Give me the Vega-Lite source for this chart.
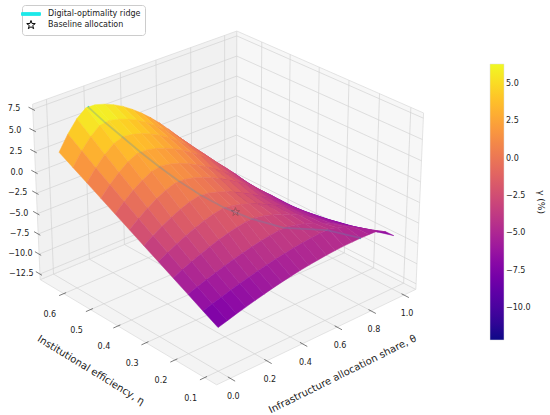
{
  "$schema": "https://vega.github.io/schema/vega-lite/v6.json",
  "width": 550,
  "height": 415,
  "autosize": {"type": "none"},
  "padding": 0,
  "params": [
    {"name": "az", "value": -132},
    {"name": "el", "value": 27.5},
    {"name": "t0", "value": -0.073},
    {"name": "t1", "value": 1.073},
    {"name": "e0", "value": 0.06},
    {"name": "e1", "value": 0.69},
    {"name": "z0", "value": -13.2},
    {"name": "z1", "value": 8.1},
    {"name": "hx", "value": 0.595},
    {"name": "hz", "value": 0.4346},
    {"name": "pK", "value": 228},
    {"name": "pCX", "value": 227.3},
    {"name": "pCY", "value": 198.3},
    {"name": "pD", "value": 10},
    {"name": "tm", "expr": "(t0+t1)/2"},
    {"name": "tk", "expr": "2*hx/(t1-t0)"},
    {"name": "em", "expr": "(e0+e1)/2"},
    {"name": "ek", "expr": "2*hx/(e1-e0)"},
    {"name": "zm", "expr": "(z0+z1)/2"},
    {"name": "zk", "expr": "2*hz/(z1-z0)"},
    {"name": "ua", "expr": "-sin(az*PI/180)"},
    {"name": "ub", "expr": "cos(az*PI/180)"},
    {"name": "va", "expr": "-sin(el*PI/180)*cos(az*PI/180)"},
    {"name": "vb", "expr": "-sin(el*PI/180)*sin(az*PI/180)"},
    {"name": "vc", "expr": "cos(el*PI/180)"},
    {"name": "wa", "expr": "cos(el*PI/180)*cos(az*PI/180)"},
    {"name": "wb", "expr": "cos(el*PI/180)*sin(az*PI/180)"},
    {"name": "wc", "expr": "sin(el*PI/180)"}
  ],
  "datasets": {
    "surf": [
      {"et": 0.1, "th": [0,0.05,0.1,0.15,0.2,0.25,0.3,0.35,0.4,0.45,0.5,0.55,0.6,0.65,0.7,0.75,0.8,0.85,0.9,0.95,1], "g": [-8.0,-7.69,-7.37,-7.08,-6.80,-6.54,-6.28,-6.06,-5.85,-5.66,-5.50,-5.37,-5.25,-5.16,-5.09,-5.06,-5.05,-5.07,-5.11,-5.67,-6.6]},
      {"et": 0.15, "th": [0,0.05,0.1,0.15,0.2,0.25,0.3,0.35,0.4,0.45,0.5,0.55,0.6,0.65,0.7,0.75,0.8,0.85,0.9,0.95,1], "g": [-7.05,-6.71,-6.38,-6.06,-5.76,-5.48,-5.22,-4.97,-4.75,-4.55,-4.38,-4.23,-4.11,-4.03,-4.01,-4.23,-4.62,-5.12,-5.71,-6.37,-7.10]},
      {"et": 0.2, "th": [0,0.05,0.1,0.15,0.2,0.25,0.3,0.35,0.4,0.45,0.5,0.55,0.6,0.65,0.7,0.75,0.8,0.85,0.9,0.95,1], "g": [-6.09,-5.69,-5.31,-4.95,-4.62,-4.31,-4.03,-3.77,-3.55,-3.37,-3.24,-3.24,-3.45,-3.77,-4.16,-4.61,-5.11,-5.67,-6.27,-6.92,-7.60]},
      {"et": 0.25, "th": [0,0.05,0.1,0.15,0.2,0.25,0.3,0.35,0.4,0.45,0.5,0.55,0.6,0.65,0.7,0.75,0.8,0.85,0.9,0.95,1], "g": [-5.13,-4.62,-4.15,-3.71,-3.30,-2.94,-2.63,-2.37,-2.19,-2.17,-2.39,-2.71,-3.10,-3.56,-4.08,-4.64,-5.25,-5.91,-6.60,-7.33,-8.10]},
      {"et": 0.3, "th": [0,0.05,0.1,0.15,0.2,0.25,0.3,0.35,0.4,0.45,0.5,0.55,0.6,0.65,0.7,0.75,0.8,0.85,0.9,0.95,1], "g": [-4.18,-3.56,-2.98,-2.46,-2.00,-1.60,-1.29,-1.09,-1.20,-1.48,-1.85,-2.30,-2.81,-3.37,-3.99,-4.66,-5.37,-6.12,-6.91,-7.74,-8.60]},
      {"et": 0.35, "th": [0,0.05,0.1,0.15,0.2,0.25,0.3,0.35,0.4,0.45,0.5,0.55,0.6,0.65,0.7,0.75,0.8,0.85,0.9,0.95,1], "g": [-3.23,-2.49,-1.81,-1.22,-0.71,-0.30,-0.05,-0.16,-0.46,-0.86,-1.34,-1.89,-2.50,-3.17,-3.88,-4.65,-5.45,-6.31,-7.20,-8.14,-9.10]},
      {"et": 0.4, "th": [0,0.05,0.1,0.15,0.2,0.25,0.3,0.35,0.4,0.45,0.5,0.55,0.6,0.65,0.7,0.75,0.8,0.85,0.9,0.95,1], "g": [-2.27,-1.38,-0.59,0.10,0.66,1.03,1.03,0.79,0.42,-0.04,-0.59,-1.21,-1.90,-2.66,-3.49,-4.37,-5.31,-6.31,-7.35,-8.45,-9.60]},
      {"et": 0.45, "th": [0,0.05,0.1,0.15,0.2,0.25,0.3,0.35,0.4,0.45,0.5,0.55,0.6,0.65,0.7,0.75,0.8,0.85,0.9,0.95,1], "g": [-1.32,-0.28,0.63,1.39,1.96,2.19,1.99,1.64,1.18,0.63,-0.01,-0.73,-1.52,-2.38,-3.31,-4.30,-5.35,-6.45,-7.61,-8.83,-10.10]},
      {"et": 0.5, "th": [0,0.05,0.1,0.15,0.2,0.25,0.3,0.35,0.4,0.45,0.5,0.55,0.6,0.65,0.7,0.75,0.8,0.85,0.9,0.95,1], "g": [-0.36,0.84,1.87,2.69,3.23,3.23,2.98,2.60,2.11,1.51,0.82,0.03,-0.84,-1.79,-2.83,-3.94,-5.13,-6.39,-7.73,-9.13,-10.60]},
      {"et": 0.55, "th": [0,0.05,0.1,0.15,0.2,0.25,0.3,0.35,0.4,0.45,0.5,0.55,0.6,0.65,0.7,0.75,0.8,0.85,0.9,0.95,1], "g": [0.60,1.96,3.11,3.98,4.40,4.24,3.91,3.46,2.88,2.20,1.42,0.55,-0.42,-1.47,-2.61,-3.84,-5.14,-6.52,-7.97,-9.50,-11.10]},
      {"et": 0.6, "th": [0,0.05,0.1,0.15,0.2,0.25,0.3,0.35,0.4,0.45,0.5,0.55,0.6,0.65,0.7,0.75,0.8,0.85,0.9,0.95,1], "g": [1.55,3.12,4.39,5.29,5.46,5.21,4.81,4.28,3.62,2.86,1.99,1.02,-0.04,-1.19,-2.43,-3.76,-5.17,-6.66,-8.23,-9.88,-11.60]},
      {"et": 0.65, "th": [0,0.05,0.1,0.15,0.2,0.25,0.3,0.35,0.4,0.45,0.5,0.55,0.6,0.65,0.7,0.75,0.8,0.85,0.9,0.95,1], "g": [2.50,4.26,5.66,6.54,6.50,6.18,5.71,5.11,4.37,3.53,2.58,1.53,0.37,-0.88,-2.23,-3.65,-5.18,-6.77,-8.47,-10.23,-12.10]}
    ],
    "ridge": [
      {"th": 0.8, "et": 0.1, "g": -5.05},
      {"th": 0.69, "et": 0.15, "g": -4.0},
      {"th": 0.53, "et": 0.2, "g": -3.2},
      {"th": 0.43, "et": 0.25, "g": -2.13},
      {"th": 0.36, "et": 0.3, "g": -1.08},
      {"th": 0.31, "et": 0.35, "g": -0.03},
      {"th": 0.27, "et": 0.4, "g": 1.1},
      {"th": 0.24, "et": 0.45, "g": 2.2},
      {"th": 0.215, "et": 0.5, "g": 3.3},
      {"th": 0.195, "et": 0.55, "g": 4.4},
      {"th": 0.175, "et": 0.6, "g": 5.5},
      {"th": 0.16, "et": 0.65, "g": 6.6}
    ],
    "base": [
      {"th": 0.39, "et": 0.28, "g": -1.5, "s": "Baseline allocation"}
    ],
    "panes": [
      {"p": "f", "c": "000100110010"},
      {"p": "l", "c": "010110111011"},
      {"p": "r", "c": "100110111101"}
    ],
    "grid": [
      {"p": "f", "a": "t", "v": 0}, {"p": "f", "a": "t", "v": 0.2}, {"p": "f", "a": "t", "v": 0.4},
      {"p": "f", "a": "t", "v": 0.6}, {"p": "f", "a": "t", "v": 0.8}, {"p": "f", "a": "t", "v": 1},
      {"p": "f", "a": "e", "v": 0.1}, {"p": "f", "a": "e", "v": 0.2}, {"p": "f", "a": "e", "v": 0.3},
      {"p": "f", "a": "e", "v": 0.4}, {"p": "f", "a": "e", "v": 0.5}, {"p": "f", "a": "e", "v": 0.6},
      {"p": "l", "a": "t", "v": 0}, {"p": "l", "a": "t", "v": 0.2}, {"p": "l", "a": "t", "v": 0.4},
      {"p": "l", "a": "t", "v": 0.6}, {"p": "l", "a": "t", "v": 0.8}, {"p": "l", "a": "t", "v": 1},
      {"p": "l", "a": "z", "v": -12.5}, {"p": "l", "a": "z", "v": -10}, {"p": "l", "a": "z", "v": -7.5},
      {"p": "l", "a": "z", "v": -5}, {"p": "l", "a": "z", "v": -2.5}, {"p": "l", "a": "z", "v": 0},
      {"p": "l", "a": "z", "v": 2.5}, {"p": "l", "a": "z", "v": 5}, {"p": "l", "a": "z", "v": 7.5},
      {"p": "r", "a": "e", "v": 0.1}, {"p": "r", "a": "e", "v": 0.2}, {"p": "r", "a": "e", "v": 0.3},
      {"p": "r", "a": "e", "v": 0.4}, {"p": "r", "a": "e", "v": 0.5}, {"p": "r", "a": "e", "v": 0.6},
      {"p": "r", "a": "z", "v": -12.5}, {"p": "r", "a": "z", "v": -10}, {"p": "r", "a": "z", "v": -7.5},
      {"p": "r", "a": "z", "v": -5}, {"p": "r", "a": "z", "v": -2.5}, {"p": "r", "a": "z", "v": 0},
      {"p": "r", "a": "z", "v": 2.5}, {"p": "r", "a": "z", "v": 5}, {"p": "r", "a": "z", "v": 7.5}
    ],
    "ticks": [
      {"a": "t", "v": 0}, {"a": "t", "v": 0.2}, {"a": "t", "v": 0.4}, {"a": "t", "v": 0.6}, {"a": "t", "v": 0.8}, {"a": "t", "v": 1},
      {"a": "e", "v": 0.1}, {"a": "e", "v": 0.2}, {"a": "e", "v": 0.3}, {"a": "e", "v": 0.4}, {"a": "e", "v": 0.5}, {"a": "e", "v": 0.6},
      {"a": "z", "v": -12.5}, {"a": "z", "v": -10}, {"a": "z", "v": -7.5}, {"a": "z", "v": -5}, {"a": "z", "v": -2.5},
      {"a": "z", "v": 0}, {"a": "z", "v": 2.5}, {"a": "z", "v": 5}, {"a": "z", "v": 7.5}
    ],
    "titles": [
      {"ax": "t", "th": 0.5, "label": "Infrastructure allocation share, θ"},
      {"ax": "e", "et": 0.375, "label": "Institutional efficiency, η"}
    ]
  },
  "encoding": {
    "x": {"field": "sx", "type": "quantitative", "scale": {"domain": [0, 550], "range": [0, 550], "nice": false, "zero": false}, "axis": null},
    "y": {"field": "sy", "type": "quantitative", "scale": {"domain": [0, 415], "range": [0, 415], "nice": false, "zero": false}, "axis": null}
  },
  "layer": [
    {
      "data": {"name": "panes"},
      "transform": [
        {"calculate": "((substring(datum.c,0,1)=='1'?t1:t0)-tm)*tk", "as": "X0"},
        {"calculate": "((substring(datum.c,1,2)=='1'?e1:e0)-em)*ek", "as": "Y0"},
        {"calculate": "((substring(datum.c,2,3)=='1'?z1:z0)-zm)*zk", "as": "Z0"},
        {"calculate": "((substring(datum.c,3,4)=='1'?t1:t0)-tm)*tk", "as": "X1"},
        {"calculate": "((substring(datum.c,4,5)=='1'?e1:e0)-em)*ek", "as": "Y1"},
        {"calculate": "((substring(datum.c,5,6)=='1'?z1:z0)-zm)*zk", "as": "Z1"},
        {"calculate": "((substring(datum.c,6,7)=='1'?t1:t0)-tm)*tk", "as": "X2"},
        {"calculate": "((substring(datum.c,7,8)=='1'?e1:e0)-em)*ek", "as": "Y2"},
        {"calculate": "((substring(datum.c,8,9)=='1'?z1:z0)-zm)*zk", "as": "Z2"},
        {"calculate": "((substring(datum.c,9,10)=='1'?t1:t0)-tm)*tk", "as": "X3"},
        {"calculate": "((substring(datum.c,10,11)=='1'?e1:e0)-em)*ek", "as": "Y3"},
        {"calculate": "((substring(datum.c,11,12)=='1'?z1:z0)-zm)*zk", "as": "Z3"},
        {"calculate": "pD/(pD-wa*datum.X0-wb*datum.Y0-wc*datum.Z0)", "as": "F0"},
        {"calculate": "pD/(pD-wa*datum.X1-wb*datum.Y1-wc*datum.Z1)", "as": "F1"},
        {"calculate": "pD/(pD-wa*datum.X2-wb*datum.Y2-wc*datum.Z2)", "as": "F2"},
        {"calculate": "pD/(pD-wa*datum.X3-wb*datum.Y3-wc*datum.Z3)", "as": "F3"},
        {"calculate": "pCX+pK*(ua*datum.X0+ub*datum.Y0)*datum.F0", "as": "sx"},
        {"calculate": "pCY-pK*(va*datum.X0+vb*datum.Y0+vc*datum.Z0)*datum.F0", "as": "sy"},
        {"calculate": "round(100*(pCX+pK*(ua*datum.X1+ub*datum.Y1)*datum.F1-datum.sx))/100", "as": "u1"},
        {"calculate": "round(100*(pCY-pK*(va*datum.X1+vb*datum.Y1+vc*datum.Z1)*datum.F1-datum.sy))/100", "as": "v1"},
        {"calculate": "round(100*(pCX+pK*(ua*datum.X2+ub*datum.Y2)*datum.F2-datum.sx))/100", "as": "u2"},
        {"calculate": "round(100*(pCY-pK*(va*datum.X2+vb*datum.Y2+vc*datum.Z2)*datum.F2-datum.sy))/100", "as": "v2"},
        {"calculate": "round(100*(pCX+pK*(ua*datum.X3+ub*datum.Y3)*datum.F3-datum.sx))/100", "as": "u3"},
        {"calculate": "round(100*(pCY-pK*(va*datum.X3+vb*datum.Y3+vc*datum.Z3)*datum.F3-datum.sy))/100", "as": "v3"},
        {"calculate": "'M0,0L'+datum.u1+','+datum.v1+'L'+datum.u2+','+datum.v2+'L'+datum.u3+','+datum.v3+'Z'", "as": "path"}
      ],
      "mark": {"type": "point", "filled": true, "size": 4, "opacity": 1, "stroke": "#dddddd", "strokeWidth": 0.8},
      "encoding": {
        "shape": {"field": "path", "type": "nominal", "scale": null},
        "fill": {"field": "p", "type": "nominal", "scale": {"domain": ["f", "l", "r"], "range": ["#f4f4f4", "#f1f1f1", "#f7f7f7"]}, "legend": null}
      }
    },
    {
      "data": {"name": "grid"},
      "transform": [
        {"calculate": "datum.a=='t'?datum.v:(datum.p=='r'?t1:t0)", "as": "A"},
        {"calculate": "datum.a=='t'?datum.v:t1", "as": "A2"},
        {"calculate": "datum.a=='e'?datum.v:(datum.p=='l'?e1:e0)", "as": "B"},
        {"calculate": "datum.a=='e'?datum.v:e1", "as": "B2"},
        {"calculate": "datum.a=='z'?datum.v:z0", "as": "C"},
        {"calculate": "datum.a=='z'?datum.v:(datum.p=='f'?z0:z1)", "as": "C2"},
        {"calculate": "(datum.A-tm)*tk", "as": "X"},
        {"calculate": "(datum.B-em)*ek", "as": "Y"},
        {"calculate": "(datum.C-zm)*zk", "as": "Z"},
        {"calculate": "pD/(pD-wa*datum.X-wb*datum.Y-wc*datum.Z)", "as": "F"},
        {"calculate": "pCX+pK*(ua*datum.X+ub*datum.Y)*datum.F", "as": "sx"},
        {"calculate": "pCY-pK*(va*datum.X+vb*datum.Y+vc*datum.Z)*datum.F", "as": "sy"},
        {"calculate": "(datum.A2-tm)*tk", "as": "X2"},
        {"calculate": "(datum.B2-em)*ek", "as": "Y2"},
        {"calculate": "(datum.C2-zm)*zk", "as": "Z2"},
        {"calculate": "pD/(pD-wa*datum.X2-wb*datum.Y2-wc*datum.Z2)", "as": "F2"},
        {"calculate": "pCX+pK*(ua*datum.X2+ub*datum.Y2)*datum.F2", "as": "sx2"},
        {"calculate": "pCY-pK*(va*datum.X2+vb*datum.Y2+vc*datum.Z2)*datum.F2", "as": "sy2"}
      ],
      "mark": {"type": "rule", "stroke": "#d2d2d2", "strokeWidth": 0.7},
      "encoding": {"x2": {"field": "sx2"}, "y2": {"field": "sy2"}}
    },
    {
      "data": {"name": "ticks"},
      "transform": [
        {"calculate": "datum.a=='t'?datum.v:(datum.a=='e'?t0+0.013:t0)", "as": "A"},
        {"calculate": "datum.a=='t'?datum.v:(datum.a=='e'?t0-0.025:t0)", "as": "A2"},
        {"calculate": "datum.a=='e'?datum.v:(datum.a=='t'?e0+0.008:e1-0.008)", "as": "B"},
        {"calculate": "datum.a=='e'?datum.v:(datum.a=='t'?e0-0.016:e1+0.016)", "as": "B2"},
        {"calculate": "datum.a=='z'?datum.v:z0", "as": "C"},
        {"calculate": "datum.a=='z'?datum.v:z0", "as": "C2"},
        {"calculate": "(datum.A-tm)*tk", "as": "X"},
        {"calculate": "(datum.B-em)*ek", "as": "Y"},
        {"calculate": "(datum.C-zm)*zk", "as": "Z"},
        {"calculate": "pD/(pD-wa*datum.X-wb*datum.Y-wc*datum.Z)", "as": "F"},
        {"calculate": "pCX+pK*(ua*datum.X+ub*datum.Y)*datum.F", "as": "sx"},
        {"calculate": "pCY-pK*(va*datum.X+vb*datum.Y+vc*datum.Z)*datum.F", "as": "sy"},
        {"calculate": "(datum.A2-tm)*tk", "as": "X2"},
        {"calculate": "(datum.B2-em)*ek", "as": "Y2"},
        {"calculate": "(datum.C2-zm)*zk", "as": "Z2"},
        {"calculate": "pD/(pD-wa*datum.X2-wb*datum.Y2-wc*datum.Z2)", "as": "F2"},
        {"calculate": "pCX+pK*(ua*datum.X2+ub*datum.Y2)*datum.F2", "as": "sx2"},
        {"calculate": "pCY-pK*(va*datum.X2+vb*datum.Y2+vc*datum.Z2)*datum.F2", "as": "sy2"}
      ],
      "mark": {"type": "rule", "stroke": "#444444", "strokeWidth": 0.7},
      "encoding": {"x2": {"field": "sx2"}, "y2": {"field": "sy2"}}
    },
    {
      "data": {"name": "ticks"},
      "transform": [
        {"filter": "datum.a=='t'"},
        {"calculate": "(datum.v-tm)*tk", "as": "X"},
        {"calculate": "(e0-em)*ek", "as": "Y"},
        {"calculate": "(z0-zm)*zk", "as": "Z"},
        {"calculate": "pD/(pD-wa*datum.X-wb*datum.Y-wc*datum.Z)", "as": "F"},
        {"calculate": "pCX+pK*(ua*datum.X+ub*datum.Y)*datum.F", "as": "sx"},
        {"calculate": "pCY-pK*(va*datum.X+vb*datum.Y+vc*datum.Z)*datum.F", "as": "sy"},
        {"calculate": "format(datum.v,'.1f')", "as": "lab"}
      ],
      "mark": {"type": "text", "fontSize": 8, "color": "#222222", "align": "center", "baseline": "middle", "dx": 3, "dy": 19},
      "encoding": {"text": {"field": "lab"}}
    },
    {
      "data": {"name": "ticks"},
      "transform": [
        {"filter": "datum.a=='e'"},
        {"calculate": "(t0-tm)*tk", "as": "X"},
        {"calculate": "(datum.v-em)*ek", "as": "Y"},
        {"calculate": "(z0-zm)*zk", "as": "Z"},
        {"calculate": "pD/(pD-wa*datum.X-wb*datum.Y-wc*datum.Z)", "as": "F"},
        {"calculate": "pCX+pK*(ua*datum.X+ub*datum.Y)*datum.F", "as": "sx"},
        {"calculate": "pCY-pK*(va*datum.X+vb*datum.Y+vc*datum.Z)*datum.F", "as": "sy"},
        {"calculate": "format(datum.v,'.1f')", "as": "lab"}
      ],
      "mark": {"type": "text", "fontSize": 8, "color": "#222222", "align": "center", "baseline": "middle", "dx": -14, "dy": 21},
      "encoding": {"text": {"field": "lab"}}
    },
    {
      "data": {"name": "ticks"},
      "transform": [
        {"filter": "datum.a=='z'"},
        {"calculate": "(t0-tm)*tk", "as": "X"},
        {"calculate": "(e1-em)*ek", "as": "Y"},
        {"calculate": "(datum.v-zm)*zk", "as": "Z"},
        {"calculate": "pD/(pD-wa*datum.X-wb*datum.Y-wc*datum.Z)", "as": "F"},
        {"calculate": "pCX+pK*(ua*datum.X+ub*datum.Y)*datum.F", "as": "sx"},
        {"calculate": "pCY-pK*(va*datum.X+vb*datum.Y+vc*datum.Z)*datum.F", "as": "sy"},
        {"calculate": "format(datum.v,'.1f')", "as": "lab"}
      ],
      "mark": {"type": "text", "fontSize": 8, "color": "#222222", "align": "center", "baseline": "middle", "dx": -18.7, "dy": 0},
      "encoding": {"text": {"field": "lab"}}
    },
    {
      "data": {"name": "titles"},
      "transform": [
        {"filter": "datum.ax=='t'"},
        {"calculate": "(datum.th-tm)*tk", "as": "X"},
        {"calculate": "(e0-em)*ek", "as": "Y"},
        {"calculate": "(z0-zm)*zk", "as": "Z"},
        {"calculate": "pD/(pD-wa*datum.X-wb*datum.Y-wc*datum.Z)", "as": "F"},
        {"calculate": "pCX+pK*(ua*datum.X+ub*datum.Y)*datum.F", "as": "sx"},
        {"calculate": "pCY-pK*(va*datum.X+vb*datum.Y+vc*datum.Z)*datum.F", "as": "sy"}
      ],
      "mark": {"type": "text", "fontSize": 10, "color": "#222222", "align": "center", "baseline": "middle", "angle": -26.5, "dx": 3, "dy": 45},
      "encoding": {"text": {"field": "label"}}
    },
    {
      "data": {"name": "titles"},
      "transform": [
        {"filter": "datum.ax=='e'"},
        {"calculate": "(t0-tm)*tk", "as": "X"},
        {"calculate": "(datum.et-em)*ek", "as": "Y"},
        {"calculate": "(z0-zm)*zk", "as": "Z"},
        {"calculate": "pD/(pD-wa*datum.X-wb*datum.Y-wc*datum.Z)", "as": "F"},
        {"calculate": "pCX+pK*(ua*datum.X+ub*datum.Y)*datum.F", "as": "sx"},
        {"calculate": "pCY-pK*(va*datum.X+vb*datum.Y+vc*datum.Z)*datum.F", "as": "sy"}
      ],
      "mark": {"type": "text", "fontSize": 10, "color": "#222222", "align": "center", "baseline": "middle", "angle": 31.5, "dx": -8, "dy": 52},
      "encoding": {"text": {"field": "label"}}
    },
    {
      "data": {"name": "ridge"},
      "transform": [
        {"calculate": "(datum.th-tm)*tk", "as": "X"},
        {"calculate": "(datum.et-em)*ek", "as": "Y"},
        {"calculate": "(datum.g-zm)*zk", "as": "Z"},
        {"calculate": "pD/(pD-wa*datum.X-wb*datum.Y-wc*datum.Z)", "as": "F"},
        {"calculate": "pCX+pK*(ua*datum.X+ub*datum.Y)*datum.F", "as": "sx"},
        {"calculate": "pCY-pK*(va*datum.X+vb*datum.Y+vc*datum.Z)*datum.F", "as": "sy"}
      ],
      "mark": {"type": "line", "stroke": "#1ee9e9", "strokeWidth": 2.4},
      "encoding": {"order": {"field": "et", "type": "quantitative"}}
    },
    {
      "data": {"name": "base"},
      "transform": [
        {"calculate": "(datum.th-tm)*tk", "as": "X"},
        {"calculate": "(datum.et-em)*ek", "as": "Y"},
        {"calculate": "(datum.g-zm)*zk", "as": "Z"},
        {"calculate": "pD/(pD-wa*datum.X-wb*datum.Y-wc*datum.Z)", "as": "F"},
        {"calculate": "pCX+pK*(ua*datum.X+ub*datum.Y)*datum.F", "as": "sx"},
        {"calculate": "pCY-pK*(va*datum.X+vb*datum.Y+vc*datum.Z)*datum.F", "as": "sy"}
      ],
      "mark": {"type": "point", "filled": true, "fill": "white", "stroke": "black", "size": 81, "opacity": 1, "strokeWidth": 1},
      "encoding": {
        "shape": {"field": "s", "type": "nominal",
          "scale": {"domain": ["Digital-optimality ridge", "Baseline allocation"], "range": ["M-2.1,-0.3L2.1,-0.3L2.1,0.3L-2.1,0.3Z", "M0,-1L0.235,-0.324L0.951,-0.309L0.38,0.124L0.588,0.809L0,0.4L-0.588,0.809L-0.38,0.124L-0.951,-0.309L-0.235,-0.324Z"]},
          "legend": {"title": null, "orient": "none", "legendX": 22, "legendY": 5, "padding": 4, "strokeColor": "#cccccc", "fillColor": "white", "cornerRadius": 3, "symbolSize": 81, "labelFontSize": 8, "labelOffset": 12, "rowPadding": 0, "symbolStrokeWidth": 1, "labelColor": "#222222",
            "encoding": {"symbols": {
              "fill": {"condition": {"test": "datum.value === 'Baseline allocation'", "value": "white"}, "value": "#1ee9e9"},
              "stroke": {"condition": {"test": "datum.value === 'Baseline allocation'", "value": "black"}, "value": "#1ee9e9"},
              "opacity": {"value": 1}}}}}
      }
    },
    {
      "data": {"name": "surf"},
      "transform": [
        {"flatten": ["th", "g"]},
        {"window": [{"op": "lead", "field": "g", "as": "g10"}], "groupby": ["et"], "sort": [{"field": "th", "order": "ascending"}]},
        {"window": [{"op": "lead", "field": "g", "as": "g01"}, {"op": "lead", "field": "g10", "as": "g11"}], "groupby": ["th"], "sort": [{"field": "et", "order": "ascending"}]},
        {"filter": "isValid(datum.g11)"},
        {"calculate": "(datum.th-tm)*tk", "as": "xa"},
        {"calculate": "(datum.th+0.05-tm)*tk", "as": "xb"},
        {"calculate": "(datum.et-em)*ek", "as": "ya"},
        {"calculate": "(datum.et+0.05-em)*ek", "as": "yb"},
        {"calculate": "(datum.g-zm)*zk", "as": "za"},
        {"calculate": "(datum.g10-zm)*zk", "as": "zb"},
        {"calculate": "(datum.g11-zm)*zk", "as": "zc"},
        {"calculate": "(datum.g01-zm)*zk", "as": "zd"},
        {"calculate": "pD/(pD-wa*datum.xa-wb*datum.ya-wc*datum.za)", "as": "fa"},
        {"calculate": "pD/(pD-wa*datum.xb-wb*datum.ya-wc*datum.zb)", "as": "fb"},
        {"calculate": "pD/(pD-wa*datum.xb-wb*datum.yb-wc*datum.zc)", "as": "fc"},
        {"calculate": "pD/(pD-wa*datum.xa-wb*datum.yb-wc*datum.zd)", "as": "fd"},
        {"calculate": "pCX+pK*(ua*datum.xa+ub*datum.ya)*datum.fa", "as": "sx"},
        {"calculate": "pCY-pK*(va*datum.xa+vb*datum.ya+vc*datum.za)*datum.fa", "as": "sy"},
        {"calculate": "round(100*(pCX+pK*(ua*datum.xb+ub*datum.ya)*datum.fb-datum.sx))/100", "as": "u1"},
        {"calculate": "round(100*(pCY-pK*(va*datum.xb+vb*datum.ya+vc*datum.zb)*datum.fb-datum.sy))/100", "as": "v1"},
        {"calculate": "round(100*(pCX+pK*(ua*datum.xb+ub*datum.yb)*datum.fc-datum.sx))/100", "as": "u2"},
        {"calculate": "round(100*(pCY-pK*(va*datum.xb+vb*datum.yb+vc*datum.zc)*datum.fc-datum.sy))/100", "as": "v2"},
        {"calculate": "round(100*(pCX+pK*(ua*datum.xa+ub*datum.yb)*datum.fd-datum.sx))/100", "as": "u3"},
        {"calculate": "round(100*(pCY-pK*(va*datum.xa+vb*datum.yb+vc*datum.zd)*datum.fd-datum.sy))/100", "as": "v3"},
        {"calculate": "'M0,0L'+datum.u1+','+datum.v1+'L'+datum.u2+','+datum.v2+'L'+datum.u3+','+datum.v3+'Z'", "as": "path"},
        {"calculate": "1/datum.fa+1/datum.fb+1/datum.fc+1/datum.fd", "as": "dist"},
        {"calculate": "(datum.g+datum.g10+datum.g01+datum.g11)/4", "as": "gc"}
      ],
      "mark": {"type": "point", "filled": true, "size": 4, "opacity": 1, "strokeWidth": 0.5, "stroke": {"expr": "scale('color', datum.gc)"}},
      "encoding": {
        "shape": {"field": "path", "type": "nominal", "scale": null},
        "color": {"field": "gc", "type": "quantitative",
          "scale": {"domain": [-12.15, 6.34], "scheme": "plasma", "clamp": true},
          "legend": {"type": "gradient", "direction": "vertical", "orient": "none", "legendX": 490, "legendY": 64, "gradientLength": 276, "gradientThickness": 14, "values": [-10, -7.5, -5, -2.5, 0, 2.5, 5], "format": ".1f", "title": "γ (%)", "titleOrient": "right", "titleAngle": 270, "titlePadding": 5, "titleFontSize": 9, "titleFontWeight": "normal", "titleColor": "#222222", "labelFontSize": 8, "labelColor": "#222222", "labelOverlap": false, "padding": 0, "gradientStrokeColor": "#dddddd", "gradientStrokeWidth": 0.5}},
        "order": {"field": "dist", "type": "quantitative", "sort": "descending"}
      }
    },
    {
      "data": {"name": "ridge"},
      "transform": [
        {"calculate": "(datum.th-tm)*tk", "as": "X"},
        {"calculate": "(datum.et-em)*ek", "as": "Y"},
        {"calculate": "(datum.g-zm)*zk", "as": "Z"},
        {"calculate": "pD/(pD-wa*datum.X-wb*datum.Y-wc*datum.Z)", "as": "F"},
        {"calculate": "pCX+pK*(ua*datum.X+ub*datum.Y)*datum.F", "as": "sx"},
        {"calculate": "pCY-pK*(va*datum.X+vb*datum.Y+vc*datum.Z)*datum.F", "as": "sy"}
      ],
      "mark": {"type": "line", "stroke": "#5a8fb0", "strokeWidth": 1.8, "opacity": 0.3},
      "encoding": {"order": {"field": "et", "type": "quantitative"}}
    },
    {
      "data": {"name": "base"},
      "transform": [
        {"calculate": "(datum.th-tm)*tk", "as": "X"},
        {"calculate": "(datum.et-em)*ek", "as": "Y"},
        {"calculate": "(datum.g-zm)*zk", "as": "Z"},
        {"calculate": "pD/(pD-wa*datum.X-wb*datum.Y-wc*datum.Z)", "as": "F"},
        {"calculate": "pCX+pK*(ua*datum.X+ub*datum.Y)*datum.F", "as": "sx"},
        {"calculate": "pCY-pK*(va*datum.X+vb*datum.Y+vc*datum.Z)*datum.F", "as": "sy"}
      ],
      "mark": {"type": "point", "shape": "M0,-1L0.235,-0.324L0.951,-0.309L0.38,0.124L0.588,0.809L0,0.4L-0.588,0.809L-0.38,0.124L-0.951,-0.309L-0.235,-0.324Z", "filled": false, "stroke": "#444444", "size": 81, "opacity": 0.35, "strokeWidth": 1}
    }
  ],
  "config": {
    "view": {"stroke": null},
    "font": "DejaVu Sans"
  }
}
